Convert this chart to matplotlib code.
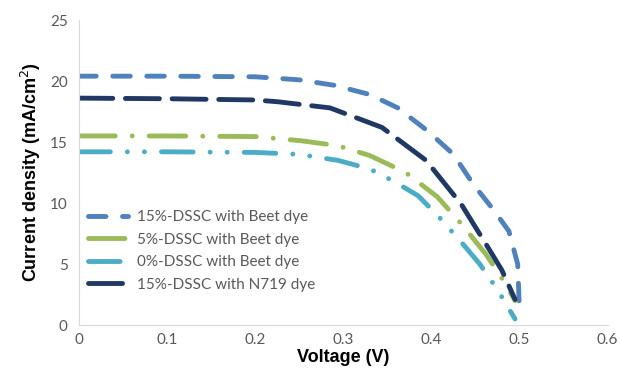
import numpy as np
import matplotlib.pyplot as plt

# J-V data (V in volts, J in mA/cm2)
v_beet15 = [0.0, 0.1, 0.2, 0.25, 0.29, 0.33, 0.362, 0.396, 0.425, 0.448, 0.47, 0.488, 0.498, 0.5]
j_beet15 = [20.4, 20.4, 20.35, 20.1, 19.65, 18.9, 17.8, 15.9, 14.0, 11.5, 9.5, 7.7, 5.0, 1.2]

v_beet5 = [0.0, 0.1, 0.2, 0.253, 0.294, 0.33, 0.371, 0.407, 0.434, 0.462, 0.484, 0.495]
j_beet5 = [15.5, 15.5, 15.45, 15.1, 14.7, 13.9, 12.5, 10.5, 8.3, 5.8, 3.4, 2.0]

v_beet0 = [0.0, 0.1, 0.2, 0.249, 0.294, 0.33, 0.357, 0.385, 0.407, 0.434, 0.455, 0.475, 0.495]
j_beet0 = [14.2, 14.2, 14.15, 14.0, 13.5, 12.8, 11.8, 10.6, 9.0, 6.8, 5.0, 2.9, 0.5]

v_n719 = [0.0, 0.1, 0.2, 0.226, 0.285, 0.344, 0.394, 0.434, 0.464, 0.48, 0.495]
j_n719 = [18.6, 18.55, 18.45, 18.3, 17.8, 16.2, 13.5, 9.9, 6.4, 4.5, 2.1]

labels = ['15%-DSSC with Beet dye', '5%-DSSC with Beet dye',
          '0%-DSSC with Beet dye', '15%-DSSC with N719 dye']

fig, ax = plt.subplots(figsize=(6.2, 3.78), dpi=100)
fig.subplots_adjust(left=0.127, right=0.98, bottom=0.14, top=0.947)

lw = 3.5
kw = dict(lw=lw, dash_capstyle='round')
ax.plot(v_beet15, j_beet15, color='#4F81BD', dashes=(3.6, 3.4), label=labels[0], **kw)
ax.plot(v_beet5, j_beet5, color='#9BBB59', dashes=(7.5, 3.5, 0.01, 3.5), label=labels[1], **kw)
ax.plot(v_beet0, j_beet0, color='#4BACC6', dashes=(6.5, 3.5, 0.01, 3.5, 0.01, 3.5), label=labels[2], **kw)
ax.plot(v_n719, j_n719, color='#1F3864', dashes=(7, 2.6), label=labels[3], **kw)

ax.set_xlim(0, 0.6)
ax.set_ylim(0, 25)
ax.set_xticks(np.arange(0, 0.61, 0.1))
ax.set_xticklabels(['0', '0.1', '0.2', '0.3', '0.4', '0.5', '0.6'])
ax.set_yticks(np.arange(0, 26, 5))

for s in ['top', 'right']:
    ax.spines[s].set_visible(False)
for s in ['left', 'bottom']:
    ax.spines[s].set_color('#D9D9D9')
ax.tick_params(length=0, labelsize=11, labelcolor='#595959', pad=8)
ax.tick_params(axis='x', pad=6)
for t in ax.get_xticklabels() + ax.get_yticklabels():
    t.set_family('Lato')

ax.set_xlabel('Voltage (V)', fontsize=13, fontweight='bold', family='Liberation Sans', labelpad=1)
ax.set_ylabel('Current density (mA/cm$^2$)', fontsize=13, fontweight='bold',
              family='Liberation Sans', labelpad=5)

leg = ax.legend(loc='lower left', bbox_to_anchor=(0.0, 0.08), frameon=False,
                prop={'family': 'Lato', 'size': 11}, handlelength=2.6,
                handletextpad=0.6, labelspacing=0.55, borderaxespad=0.2)
for t in leg.get_texts():
    t.set_color('#595959')

fig.savefig('out.png', dpi=100)
